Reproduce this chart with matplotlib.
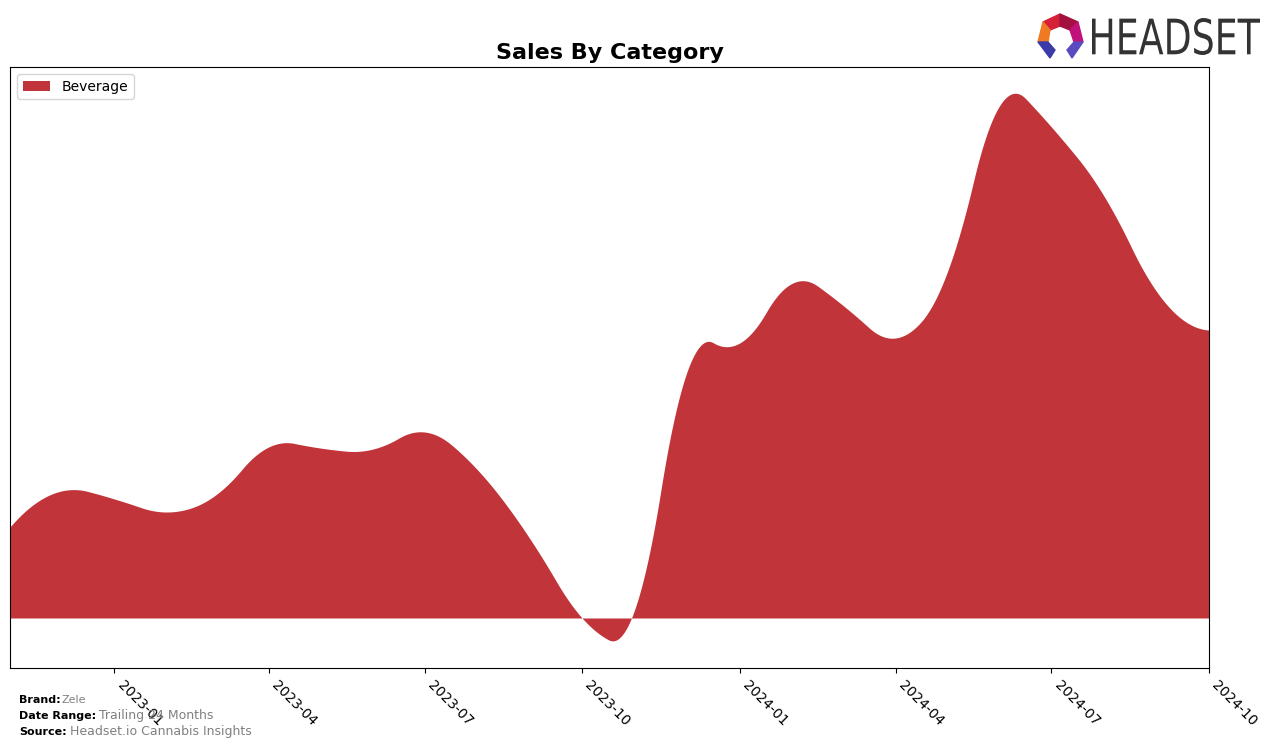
import numpy as np
import matplotlib
matplotlib.use("Agg")
import matplotlib.pyplot as plt
import matplotlib.dates as mdates
from matplotlib.patches import Polygon, PathPatch
from matplotlib.textpath import TextPath
from matplotlib.transforms import Affine2D

# monthly sales, Beverage (arbitrary units)
months = np.arange(np.datetime64("2022-11"), np.datetime64("2024-11"), dtype="datetime64[M]")
beverage = [91, 127, 119, 106, 123, 171, 170, 169, 186, 148, 78, 0,
            10, 245, 275, 335, 313, 280, 345, 513, 491, 421, 325, 288]
tick_months = ["2023-01", "2023-04", "2023-07", "2023-10",
               "2024-01", "2024-04", "2024-07", "2024-10"]
bar_color = "#c1353a"


def bspline_basis(t, k, xs):
    xs = np.asarray(xs, float)
    nb = len(t) - 1
    B = np.zeros((len(xs), nb))
    for i in range(nb):
        if t[i] < t[i + 1]:
            B[:, i] = (xs >= t[i]) & (xs < t[i + 1])
    last = np.nonzero(t[:-1] < t[1:])[0].max()
    B[xs >= t[-1], last] = 1
    for p in range(1, k + 1):
        Bn = np.zeros((len(xs), nb - p))
        for i in range(nb - p):
            d1 = t[i + p] - t[i]
            d2 = t[i + p + 1] - t[i + 1]
            term = np.zeros(len(xs))
            if d1 > 0:
                term += (xs - t[i]) / d1 * B[:, i]
            if d2 > 0:
                term += (t[i + p + 1] - xs) / d2 * B[:, i + 1]
            Bn[:, i] = term
        B = Bn
    return B


def smooth(x, y, n=800):
    # quadratic interpolating spline, knots half way between the months
    x = np.asarray(x, float)
    mid = (x[1:] + x[:-1]) / 2
    t = np.r_[[x[0]] * 3, mid[1:-1], [x[-1]] * 3]
    c = np.linalg.solve(bspline_basis(t, 2, x), np.asarray(y, float))
    xs = np.linspace(x[0], x[-1], n)
    return xs, bspline_basis(t, 2, xs) @ c


xnum = mdates.date2num(months.astype("datetime64[D]"))
xs, ys = smooth(xnum, beverage)

W, H = 1276, 748
fig = plt.figure(figsize=(W / 100, H / 100), dpi=100)
ax = fig.add_axes([10 / W, 1 - 668 / H, 1199 / W, 601 / H])
ax.fill_between(xs, 0, ys, color=bar_color, linewidth=0, label="Beverage")
ax.set_xlim(xnum[0], xnum[-1])
ax.set_ylim(-50, 551)
ax.set_yticks([])
ticks = mdates.date2num(np.array(tick_months, dtype="datetime64[D]"))
ax.set_xticks(ticks)
ax.set_xticklabels(tick_months, rotation=-45, ha="left", fontsize=10)
ax.set_title("Sales By Category", fontsize=16, fontweight="bold")
ax.legend(loc="upper left", fontsize=10)

# footer
fig.text(19 / W, 1 - 700 / H, "Brand:", fontsize=8, fontweight="bold", va="center")
fig.text(62 / W, 1 - 700 / H, "Zele", fontsize=8, color="grey", va="center")
fig.text(19 / W, 1 - 716 / H, "Date Range:", fontsize=8, fontweight="bold", va="center")
fig.text(99 / W, 1 - 716 / H, "Trailing 24 Months", fontsize=9, color="grey", va="center")
fig.text(19 / W, 1 - 732 / H, "Source:", fontsize=8, fontweight="bold", va="center")
fig.text(70 / W, 1 - 732 / H, "Headset.io Cannabis Insights", fontsize=9, color="grey", va="center")

# logo: squeezed text, placed in pixels
tp = TextPath((0, 0), "HEADSET", size=50, prop={"family": "DejaVu Sans"})
bb = tp.get_extents()
sx = 168 / bb.width
sy = 37 / bb.height
tr = Affine2D().translate(-bb.x0, -bb.y0).scale(sx, sy).translate(1092, H - 55)
fig.patches.append(PathPatch(tr.transform_path(tp), color="#333333", lw=0,
                             transform=None, figure=fig))


def px(pts):
    return [(x / W, 1 - y / H) for x, y in pts]


logo = [
    ([(1043, 22), (1060, 14), (1060, 26), (1050, 30)], "#d62038"),
    ([(1060, 14), (1078, 22), (1070, 30), (1060, 26)], "#a3123f"),
    ([(1078, 22), (1083, 42), (1074, 42), (1070, 30)], "#c0127a"),
    ([(1043, 22), (1050, 30), (1048, 42), (1038, 42)], "#f07a23"),
    ([(1038, 42), (1048, 42), (1055, 50), (1050, 58)], "#3a3aa8"),
    ([(1083, 42), (1074, 42), (1067, 50), (1072, 58)], "#5a4ac0"),
]
for pts, c in logo:
    fig.patches.append(Polygon(px(pts), closed=True, color=c, transform=fig.transFigure, figure=fig))

fig.savefig("out.png", dpi=100)
